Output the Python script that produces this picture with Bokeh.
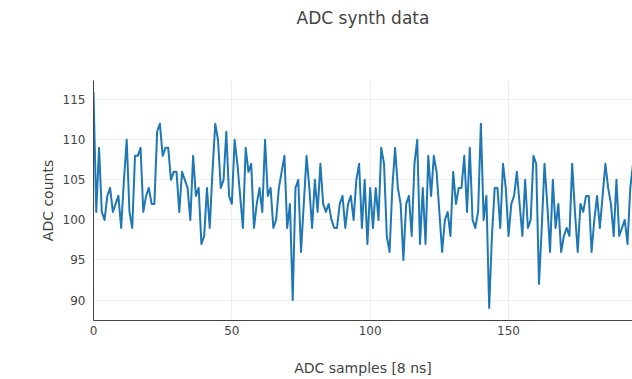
from bokeh.plotting import figure
from bokeh.models import Range1d, FixedTicker, Title
from bokeh.embed import file_html
from bokeh.resources import INLINE

adc_counts = [
    116, 101, 109, 101, 100, 103, 104, 101, 102, 103,
    99, 105, 110, 101, 99, 108, 108, 109, 101, 103,
    104, 102, 102, 111, 112, 108, 109, 109, 105, 106,
    106, 101, 106, 105, 104, 100, 108, 103, 104, 97,
    98, 104, 99, 106, 112, 110, 104, 105, 111, 103,
    102, 110, 107, 103, 99, 109, 106, 107, 99, 102,
    104, 101, 110, 103, 104, 99, 100, 104, 106, 108,
    99, 102, 90, 104, 105, 96, 102, 108, 104, 99,
    105, 101, 107, 102, 101, 102, 100, 99, 99, 102,
    103, 99, 102, 103, 100, 105, 107, 99, 105, 97,
    104, 99, 104, 100, 109, 107, 98, 96, 104, 109,
    104, 102, 95, 102, 103, 98, 107, 110, 97, 104,
    97, 108, 103, 108, 106, 101, 96, 100, 101, 98,
    106, 102, 104, 104, 108, 101, 109, 100, 99, 101,
    112, 100, 103, 89, 98, 104, 104, 99, 107, 104,
    98, 102, 103, 106, 102, 98, 105, 99, 100, 108,
    107, 92, 99, 107, 102, 96, 105, 99, 102, 96,
    98, 99, 98, 107, 101, 96, 102, 101, 103, 103,
    96, 100, 103, 99, 103, 107, 104, 102, 98, 105,
    98, 99, 100, 97, 104, 107,
]
samples = list(range(len(adc_counts)))

x_ticks = [0, 50, 100, 150]
y_ticks = [90, 95, 100, 105, 110, 115]

TEXT = "#444444"
FONT = "DejaVu Sans"

p = figure(width=632, height=379, output_backend="svg", toolbar_location=None,
           x_range=Range1d(0, 194.8), y_range=Range1d(87.45, 117.4),
           min_border_left=93, min_border_right=0, min_border_top=77,
           min_border_bottom=59)
p.title.text = "ADC synth data"
p.title.align = "center"
p.title.text_font = FONT
p.title.text_font_size = "17px"
p.title.text_color = TEXT
p.title.text_font_style = "normal"
# blank spacer panel between the title and the plot frame
p.add_layout(Title(text="\u00a0", text_font=FONT, text_font_size="31px",
                   text_color="white"), "above")
p.outline_line_color = None
p.background_fill_color = "white"
p.border_fill_color = "white"

p.line(samples, adc_counts, line_width=2, line_color="#1f77b4", line_join="round")

for ax in (p.xaxis[0], p.yaxis[0]):
    ax.axis_line_color = TEXT
    ax.axis_line_width = 1
    ax.major_tick_line_color = None
    ax.minor_tick_line_color = None
    ax.major_tick_in = 0
    ax.major_tick_out = 0
    ax.major_label_text_font = FONT
    ax.major_label_text_font_size = "12px"
    ax.major_label_text_color = TEXT
    ax.axis_label_text_font = FONT
    ax.axis_label_text_font_size = "14px"
    ax.axis_label_text_color = TEXT
    ax.axis_label_text_font_style = "normal"

p.xaxis.ticker = FixedTicker(ticks=x_ticks)
p.yaxis.ticker = FixedTicker(ticks=y_ticks)
p.xaxis.axis_label = "ADC samples [8 ns]"
p.yaxis.axis_label = "ADC counts"
p.xaxis.major_label_standoff = 5
p.yaxis.major_label_standoff = 8
p.xaxis.axis_label_standoff = 22
p.yaxis.axis_label_standoff = 4

p.xgrid.grid_line_color = "#eeeeee"
p.ygrid.grid_line_color = "#eeeeee"
p.xgrid.grid_line_width = 1
p.ygrid.grid_line_width = 1

open("out.html", "w").write(file_html(p, INLINE))
